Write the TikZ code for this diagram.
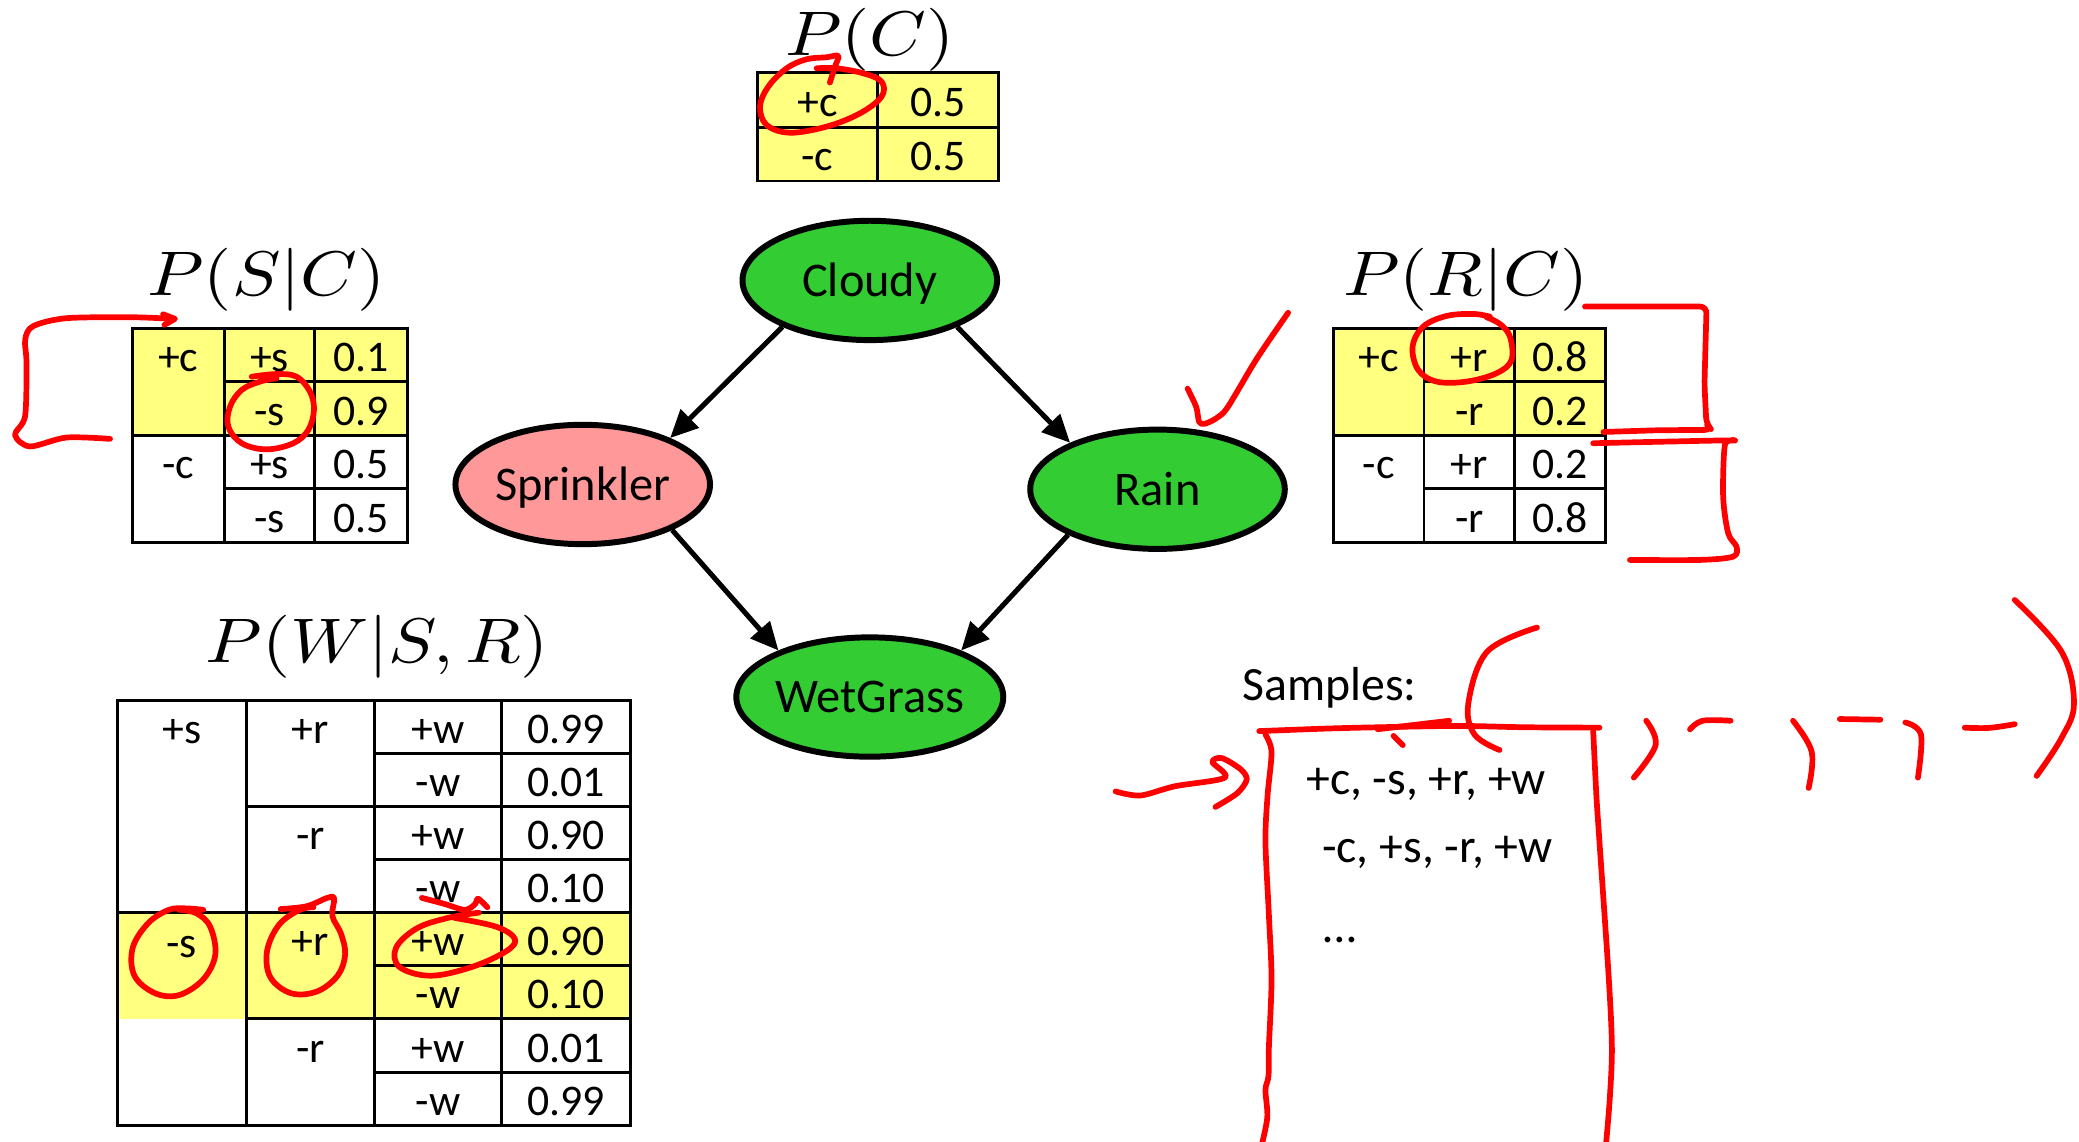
\documentclass[tikz,border=0pt]{standalone}
\usepackage{graphicx}
\usepackage{fontspec}
\setmainfont{Carlito}
\usetikzlibrary{arrows.meta,shapes.geometric}
\definecolor{cellyellow}{RGB}{255,255,128}
\definecolor{nodegreen}{RGB}{51,204,51}
\definecolor{nodepink}{RGB}{255,153,153}
\definecolor{penred}{RGB}{255,0,0}
\newcommand{\cpttitle}[1]{\scalebox{5.45}[4.75]{$#1$}}

\begin{document}
\begin{tikzpicture}[x=1pt,y=-1pt,
  rule/.style={line width=2.2pt, line cap=rect},
  cell/.style={inner sep=0pt, text height=25pt, text depth=0pt, font=\fontsize{33}{39}\selectfont},
  var/.style={ellipse, draw=black, line width=4.5pt, minimum width=192pt, minimum height=90pt,
              inner sep=0pt, text height=24pt, text depth=0pt, font=\fontsize{36.5}{43}\selectfont},
  link/.style={line width=3.8pt, -{Triangle[length=21pt,width=19pt]}},
  heading/.style={anchor=base, inner sep=0pt},
  sample/.style={anchor=base west, inner sep=0pt, font=\fontsize{36}{43}\selectfont},
  redpen/.style={draw=penred, line width=4.3pt, line cap=round, line join=round}
]
\useasboundingbox (0,0) rectangle (1568,861);

% ---------- P(C) ----------
\node[heading] (tc) at (656,41.5) {\cpttitle{P(C)}};
\fill[cellyellow] (571,54.5) rectangle (753,136.5);
\draw[rule] (571,54.5) rectangle (753,136.5);
\draw[rule] (662,54.5) -- (662,136.5);
\draw[rule] (571,96) -- (753,96);
\node[cell] (c1) at (616.5,75.25) {+c};
\node[cell] (c2) at (707.5,75.25) {0.5};
\node[cell] (c3) at (616.5,116.25) {-c};
\node[cell] (c4) at (707.5,116.25) {0.5};

% ---------- P(S|C) ----------
\node[heading] (ts) at (201,222.5) {\cpttitle{P(S|C)}};
\fill[cellyellow] (100,248) rectangle (307,328.5);
\draw[rule] (100,248) rectangle (307,409);
\draw[rule] (169,248) -- (169,409);
\draw[rule] (237.5,248) -- (237.5,409);
\draw[rule] (100,328.5) -- (307,328.5);
\draw[rule] (169,288) -- (307,288);
\draw[rule] (169,368.5) -- (307,368.5);
\node[cell] (s11) at (134.5,268) {+c};
\node[cell] (s31) at (134.5,348.5) {-c};
\node[cell] (s12) at (203.25,268) {+s};
\node[cell] (s22) at (203.25,308.25) {-s};
\node[cell] (s32) at (203.25,348.5) {+s};
\node[cell] (s42) at (203.25,388.75) {-s};
\node[cell] (s13) at (272.25,268) {0.1};
\node[cell] (s23) at (272.25,308.25) {0.9};
\node[cell] (s33) at (272.25,348.5) {0.5};
\node[cell] (s43) at (272.25,388.75) {0.5};

% ---------- P(R|C) ----------
\node[heading] (tr) at (1105.5,222.5) {\cpttitle{P(R|C)}};
\fill[cellyellow] (1005.5,248) rectangle (1211,328.5);
\draw[rule] (1005.5,248) rectangle (1211,409);
\draw[rule] (1074,248) -- (1074,409);
\draw[rule] (1142.5,248) -- (1142.5,409);
\draw[rule] (1005.5,328.5) -- (1211,328.5);
\draw[rule] (1074,288) -- (1211,288);
\draw[rule] (1074,368.5) -- (1211,368.5);
\node[cell] (r11) at (1039.75,268) {+c};
\node[cell] (r31) at (1039.75,348.5) {-c};
\node[cell] (r12) at (1108.25,268) {+r};
\node[cell] (r22) at (1108.25,308.25) {-r};
\node[cell] (r32) at (1108.25,348.5) {+r};
\node[cell] (r42) at (1108.25,388.75) {-r};
\node[cell] (r13) at (1176.75,268) {0.8};
\node[cell] (r23) at (1176.75,308.25) {0.2};
\node[cell] (r33) at (1176.75,348.5) {0.2};
\node[cell] (r43) at (1176.75,388.75) {0.8};

% ---------- P(W|S,R) ----------
\node[heading] (tw) at (284.5,500) {\cpttitle{P(W|S,R)}};
\fill[cellyellow] (88.4,688.3) rectangle (475.3,768.4);
\draw[rule] (88.4,528.3) rectangle (475.3,848.9);
\draw[rule] (185.8,528.3) -- (185.8,848.9);
\draw[rule] (282.4,528.3) -- (282.4,848.9);
\draw[rule] (378.5,528.3) -- (378.5,848.9);
\draw[rule] (88.4,688.3) -- (475.3,688.3);
\draw[rule] (185.8,608.3) -- (475.3,608.3);
\draw[rule] (185.8,768.4) -- (475.3,768.4);
\foreach \yy in {568.3,648.3,728.4,808.6}
  \draw[rule] (282.4,\yy) -- (475.3,\yy);
\node[cell] (w11) at (137.1,548.3) {+s};
\node[cell] (w51) at (137.1,710) {-s};
\node[cell] (w12) at (234.1,548.3) {+r};
\node[cell] (w32) at (234.1,628.3) {-r};
\node[cell] (w52) at (234.1,708.4) {+r};
\node[cell] (w72) at (234.1,788.5) {-r};
\foreach \yy/\ww/\pp [count=\k] in {548.3/+w/0.99, 588.3/-w/0.01, 628.3/+w/0.90, 668.3/-w/0.10,
                                    708.4/+w/0.90, 748.4/-w/0.10, 788.5/+w/0.01, 828.7/-w/0.99}{
  \node[cell] (w\k c) at (330.45,\yy) {\ww};
  \node[cell] (w\k p) at (426.9,\yy) {\pp};
}

% ---------- network ----------
\node[var, fill=nodegreen] (cloudy) at (656,211.5) {Cloudy};
\node[var, fill=nodepink] (sprinkler) at (439.5,365.4) {Sprinkler};
\node[var, fill=nodegreen] (rain) at (873,369) {Rain};
\node[var, fill=nodegreen] (wetgrass) at (656,525.7) {WetGrass};
\draw[link] (cloudy.208) -- (sprinkler.28);
\draw[link] (cloudy.332) -- (rain.152);
\draw[link] (sprinkler.333) -- (wetgrass.153);
\draw[link] (rain.207) -- (wetgrass.27);

% ---------- samples ----------
\node[sample] (samples) at (937,528) {Samples:};
\node[sample] (row1) at (985,599.5) {+c, -s, +r, +w};
\node[sample] (row2) at (997,650.3) {-c, +s, -r, +w};
\node[sample] (row3) at (998,711) {…};

% ---------- pen marks ----------
% loop round +c in P(C)
\draw[redpen] plot[smooth, tension=0.6] coordinates {(625.9,62.3) (629.7,50.3) (632.2,42.2) (623.4,43.2)
  (608.3,44.7) (593.3,51.5) (579.4,65.4) (573.2,80.4) (578.2,94.3) (595.8,100.1) (623.4,95.5)
  (648.6,85.5) (664.9,72.9) (664.9,61.6) (651.1,55.3) (631,51.5) (615.9,51.5)};
% bracket and loop at P(S|C)
\draw[redpen] plot[smooth, tension=0.5] coordinates {(83,331) (50,330) (22.6,336.7) (11.3,328)
  (18.9,314) (20,274) (19,256) (25,246) (50,240) (100.5,239.3) (130,240.5)};
\draw[redpen] (124,245) -- (132,240.5) -- (123,237);
\draw[redpen] plot[smooth, tension=0.6] coordinates {(189.8,284.1) (208.6,282.1) (223.7,284.1)
  (233.8,295.4) (236.8,309.2) (232.5,324.3) (221.2,334.3) (201.1,338.9) (182.3,334.3)
  (172.2,321.8) (173.5,306.7) (182.3,294.1) (196.1,287.8) (208.6,285.3)};
% loop round +r and brackets at P(R|C)
\draw[redpen] plot[smooth, tension=0.6] coordinates {(1123.7,238.8) (1111.1,236.8) (1091,238.3)
  (1073.4,246.3) (1065.4,261.4) (1069.6,279) (1083.5,287.8) (1106.1,287.8) (1128.7,281.5)
  (1140,271.5) (1138.8,253.9) (1131.2,244.3) (1121.2,239.3)};
\draw[redpen, rounded corners=5pt] (1195.4,231.2) -- (1287.1,231.2) -- (1285.5,290)
  -- (1287,320) -- (1290.9,324.2) -- (1250,324.5) -- (1209.3,325.8);
\draw[redpen] plot[smooth, tension=0.5] coordinates {(1201.6,334.3) (1260,333) (1307.2,332.3)
  (1300.9,335.6) (1299.6,374.6) (1303.4,402.2) (1309.7,412.3) (1307.2,419.8) (1282.1,422.3)
  (1229.3,422.3)};
% tick above Rain
\draw[redpen] plot[smooth, tension=0.5] coordinates {(971.5,235.9) (947.7,270.8) (926,307)
  (917.4,315.4) (908.7,319.6) (904.4,318.2) (902.2,307) (895.7,293.1)};
% loops in P(W|S,R)
\draw[redpen] plot[smooth, tension=0.6] coordinates {(153.3,686.2) (140.3,685.1) (127.3,686.2)
  (111.8,696.2) (100.1,714.8) (101.4,735.9) (117,749.1) (135.1,750.5) (153.3,738.6)
  (162.4,720) (158.5,698.9) (148.1,688.8) (135.1,686.2)};
\draw[redpen] plot[smooth, tension=0.6] coordinates {(211.7,685.6) (231.2,683.5) (246.8,677.2)
  (252,677.7) (250.7,690.9) (257.2,704.2) (260.3,720) (254.6,735.9) (239,747.8) (219.5,749.1)
  (204,737.2) (201.4,717.4) (210.4,697.5) (226,686.2) (236.4,684.3)};
\draw[redpen] plot[smooth, tension=0.6] coordinates {(342.9,692.3) (374.1,698.9) (388.3,708.1)
  (381.8,717.4) (355.9,729.3) (324.7,735.9) (301.3,729.3) (298.7,714.8) (314.3,700.2)
  (337.7,692.3) (361.1,688.3)};
\draw[redpen] plot[smooth, tension=0.5] coordinates {(318.2,677.2) (335.1,681.7) (350.7,686.2)
  (358.5,681.7) (360.6,677.7) (367.6,684.3)};
% sample column
\draw[redpen] plot[smooth, tension=0.5] coordinates {(949.7,551.4) (1000,549.5) (1040,548.5)
  (1100,547.5) (1150,548.5) (1206.3,548.8)};
\draw[redpen] (1039,550) -- (1093,543.6);
\draw[redpen] (1051,555) -- (1058,562);
\draw[redpen] plot[smooth, tension=0.5] coordinates {(954.4,554) (959,567) (956,600) (954.4,634.6)
  (957,690) (959,738.7) (957,790) (956.7,811.6) (954.4,822) (955.8,842.8) (951,866)};
\draw[redpen] plot[smooth, tension=0.5] coordinates {(1201.6,551.4) (1204,600) (1206.3,634.6)
  (1213.4,738.7) (1215.7,790.8) (1214,830) (1211,866)};
% arrow into the column
\draw[redpen] plot[smooth, tension=0.5] coordinates {(841.4,596.9) (860,600) (886.1,593) (923.8,586.5)
  (914.4,574.8) (921.4,571.7) (935.5,580) (940.3,587.8) (933.2,598.2) (916.7,608.6)};
% tuple brackets
\draw[redpen] plot[smooth, tension=0.6] coordinates {(1159.2,473.3) (1121.6,491.5) (1107.4,530.6)
  (1112.1,554) (1131,565.7)};
\draw[redpen] plot[smooth, tension=0.6] coordinates {(1519.5,452.5) (1554.8,491.5) (1564.2,530.6)
  (1554.8,556.6) (1536,585.2)};
\draw[redpen] plot[smooth, tension=0.6] coordinates {(1241.6,543.6) (1248.7,561.8) (1232.2,586.5)};
\draw[redpen] plot[smooth, tension=0.6] coordinates {(1274.6,550.1) (1284,543.6) (1305.2,543.6)};
\draw[redpen] plot[smooth, tension=0.6] coordinates {(1352.3,543.6) (1366.4,567) (1364.1,594.3)};
\draw[redpen] (1387.6,542.3) -- (1418.2,542.8);
\draw[redpen] plot[smooth, tension=0.6] coordinates {(1437,544.9) (1448.8,554) (1446.5,586.5)};
\draw[redpen] plot[smooth, tension=0.6] coordinates {(1481.8,548.8) (1500,549) (1519.5,546.2)};
\end{tikzpicture}
\end{document}
